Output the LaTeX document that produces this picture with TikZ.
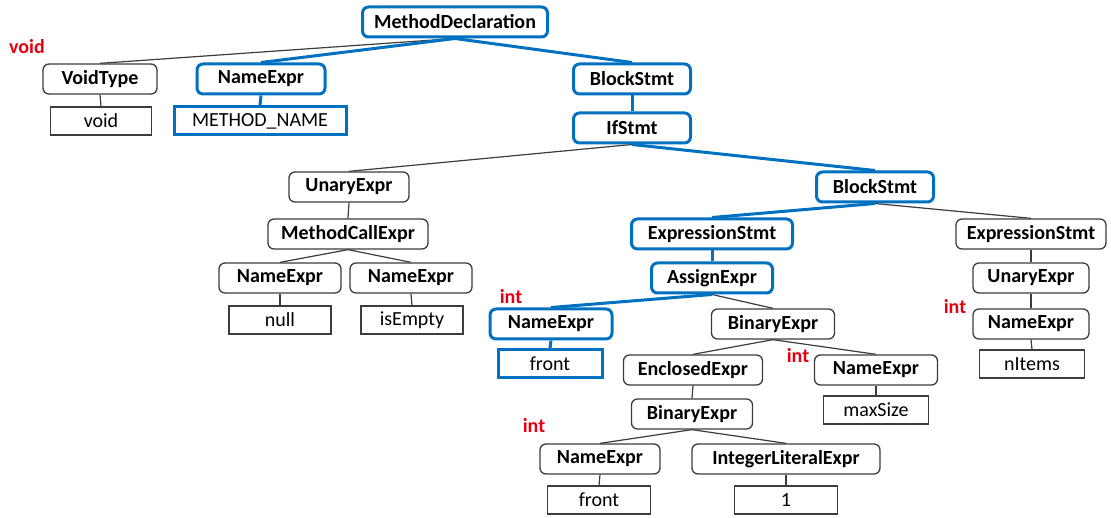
\documentclass[tikz,border=0pt]{standalone}
\usepackage{fontspec}
\setmainfont{Carlito}
\usetikzlibrary{backgrounds}
\definecolor{astblue}{RGB}{0,112,192}
\definecolor{astgray}{RGB}{60,60,60}
\definecolor{typered}{RGB}{230,0,18}
\tikzset{
  ast/.style={draw=astgray, line width=1.3pt, rounded corners=6pt, fill=white,
    minimum height=30pt, inner sep=0pt, font=\fontsize{20}{23}\selectfont\bfseries},
  astb/.style={ast, draw=astblue, line width=3pt},
  leaf/.style={draw=astgray, line width=1.3pt, fill=white,
    minimum height=28pt, inner sep=0pt, font=\fontsize{20}{23}\selectfont},
  leafb/.style={leaf, draw=astblue, line width=3pt},
  edge/.style={draw=astgray, line width=1.2pt},
  edgeb/.style={draw=astblue, line width=3pt},
  tylabel/.style={text=typered, font=\fontsize{20}{23}\selectfont\bfseries, inner sep=0pt}
}
\begin{document}
\begin{tikzpicture}[x=1pt,y=-1pt]
\useasboundingbox (0,0) rectangle (1111,518);

% method header
\node[astb, minimum width=185pt] (md) at (455,22) {MethodDeclaration};
\node[ast,  minimum width=114pt] (vt) at (100,79) {VoidType};
\node[leaf, minimum width=101pt] (vtl) at (101,121) {void};
\node[astb, minimum width=128pt] (mn) at (261,79) {NameExpr};
\node[leafb,minimum width=172pt] (mnl) at (260,121) {METHOD\_NAME};
\node[astb, minimum width=117pt] (bs) at (632,79) {BlockStmt};
\node[astb, minimum width=117pt] (if) at (632,128) {IfStmt};

% condition
\node[ast,  minimum width=120pt] (ue) at (349,187) {UnaryExpr};
\node[ast,  minimum width=160pt] (mc) at (348,234) {MethodCallExpr};
\node[ast,  minimum width=122pt] (ne1) at (280,278) {NameExpr};
\node[ast,  minimum width=122pt] (ne2) at (411,278) {NameExpr};
\node[leaf, minimum width=102pt] (nl1) at (280,320) {null};
\node[leaf, minimum width=102pt] (nl2) at (412,320) {isEmpty};

% then block
\node[astb, minimum width=117pt] (bs2) at (875,187) {BlockStmt};
\node[astb, minimum width=161pt] (es1) at (712,234) {ExpressionStmt};
\node[astb, minimum width=121pt] (as) at (712,278) {AssignExpr};
\node[astb, minimum width=122pt] (ne3) at (551,324) {NameExpr};
\node[leafb,minimum width=104pt] (nl3) at (550,364) {front};
\node[ast,  minimum width=123pt] (be1) at (773,324) {BinaryExpr};
\node[ast,  minimum width=139pt] (en) at (693,370) {EnclosedExpr};
\node[ast,  minimum width=123pt] (ne4) at (876,370) {NameExpr};
\node[leaf, minimum width=105pt] (nl4) at (876,410) {maxSize};
\node[ast,  minimum width=121pt] (be2) at (692,414) {BinaryExpr};
\node[ast,  minimum width=120pt] (ne5) at (600,459) {NameExpr};
\node[leaf, minimum width=103pt] (nl5) at (599,500) {front};
\node[ast,  minimum width=188pt] (il) at (786,459) {IntegerLiteralExpr};
\node[leaf, minimum width=103pt] (nl6) at (786,500) {1};

\node[ast,  minimum width=150pt] (es2) at (1031,234) {ExpressionStmt};
\node[ast,  minimum width=116pt] (ue2) at (1031,278) {UnaryExpr};
\node[ast,  minimum width=116pt] (ne6) at (1031,324) {NameExpr};
\node[leaf, minimum width=105pt] (nl7) at (1032,364) {nItems};

% type annotations
\node[tylabel] (t0) at (27,47) {void};
\node[tylabel] (t1) at (511,297) {int};
\node[tylabel] (t2) at (798,356) {int};
\node[tylabel] (t3) at (534,426) {int};
\node[tylabel] (t4) at (955,307) {int};

\begin{scope}[on background layer]
\path[edge] (md.south) -- (vt.north);
\path[edgeb] (md.south) -- (mn.north);
\path[edgeb] (md.south) -- (bs.north);
\path[edge] (vt.south) -- (vtl.north);
\path[edgeb] (mn.south) -- (mnl.north);
\path[edgeb] (bs.south) -- (if.north);
\path[edge] (if.south) -- (ue.north);
\path[edgeb] (if.south) -- (bs2.north);
\path[edge] (ue.south) -- (mc.north);
\path[edge] (mc.south) -- (ne1.north);
\path[edge] (mc.south) -- (ne2.north);
\path[edge] (ne1.south) -- (nl1.north);
\path[edge] (ne2.south) -- (nl2.north);
\path[edgeb] (bs2.south) -- (es1.north);
\path[edge] (bs2.south) -- (es2.north);
\path[edgeb] (es1.south) -- (as.north);
\path[edgeb] (as.south) -- (ne3.north);
\path[edgeb] (ne3.south) -- (nl3.north);
\path[edge] (as.south) -- (be1.north);
\path[edge] (be1.south) -- (en.north);
\path[edge] (be1.south) -- (ne4.north);
\path[edge] (ne4.south) -- (nl4.north);
\path[edge] (en.south) -- (be2.north);
\path[edge] (be2.south) -- (ne5.north);
\path[edge] (be2.south) -- (il.north);
\path[edge] (ne5.south) -- (nl5.north);
\path[edge] (il.south) -- (nl6.north);
\path[edge] (es2.south) -- (ue2.north);
\path[edge] (ue2.south) -- (ne6.north);
\path[edge] (ne6.south) -- (nl7.north);
\end{scope}
\end{tikzpicture}
\end{document}
